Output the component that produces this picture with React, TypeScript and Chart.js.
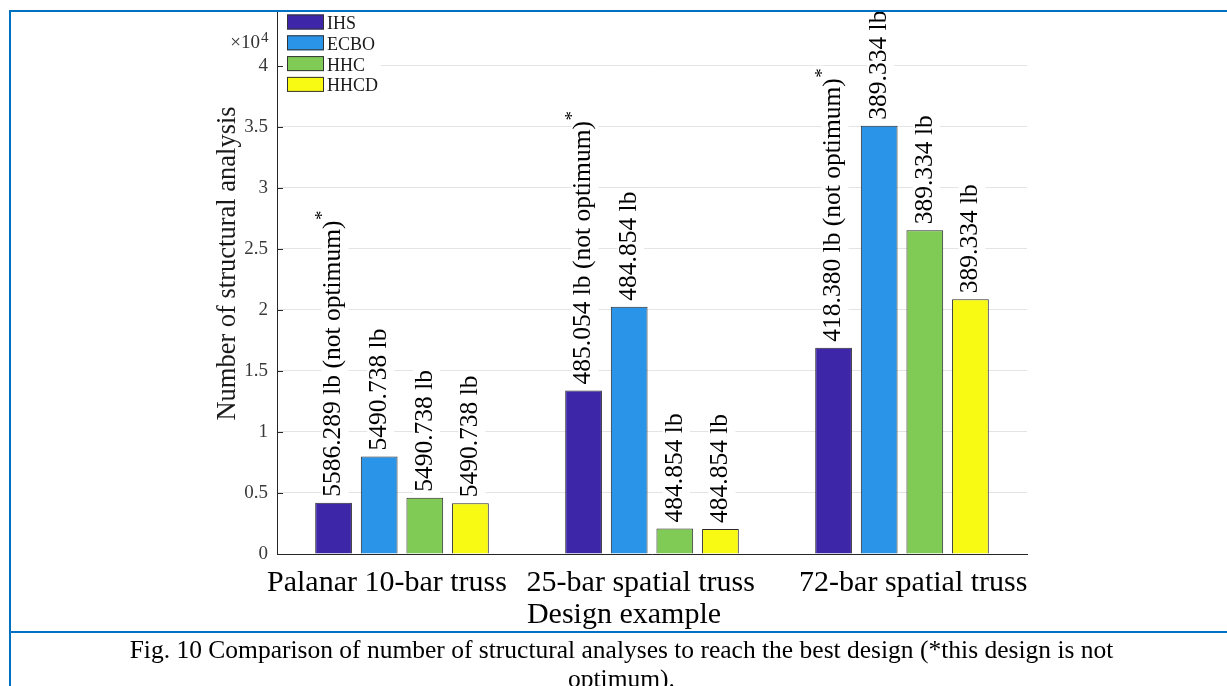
import React, { useEffect, useRef } from 'react';
import { Chart, registerables } from 'chart.js';

Chart.register(...registerables);

// ---------- data ----------
const CATEGORIES = ['Palanar 10-bar truss    ', '25-bar spatial truss   ', '   72-bar spatial truss'];
const SERIES_NAMES = ['IHS', 'ECBO', 'HHC', 'HHCD'];
const IHS = [4200, 13400, 16910];
const ECBO = [8000, 20270, 35100];
const HHC = [4600, 2100, 26530];
const HHCD = [4150, 2050, 20880];
const IHS_LABELS = ['5586.289 lb (not optimum)*', '485.054 lb (not optimum)*', '418.380 lb (not optimum)*'];
const ECBO_LABELS = ['5490.738 lb', '484.854 lb', '389.334 lb'];
const HHC_LABELS = ['5490.738 lb', '484.854 lb', '389.334 lb'];
const HHCD_LABELS = ['5490.738 lb', '484.854 lb', '389.334 lb'];
const Y_TICKS = [0, 5000, 10000, 15000, 20000, 25000, 30000, 35000, 40000];
const Y_TICK_LABELS = ['0', '0.5', '1', '1.5', '2', '2.5', '3', '3.5', '4'];
const Y_MIN = 0;
const Y_MAX = 44500;
const Y_EXPONENT = 4;
const Y_TITLE = 'Number of structural analysis';
const X_TITLE = 'Design example';
const CAPTION_LINE1 = 'Fig. 10 Comparison of number of structural analyses to reach the best design (*this design is not';
const CAPTION_LINE2 = 'optimum).';

const SERIES_VALUES = [IHS, ECBO, HHC, HHCD];
const SERIES_LABELS = [IHS_LABELS, ECBO_LABELS, HHC_LABELS, HHCD_LABELS];
const COLORS = ['#3e26a8', '#2a95e8', '#80ca56', '#f8fa14'];

const FONT = "'Liberation Serif', 'Times New Roman', serif";
const BLUE = '#0070c0';
const LABEL_SIZE = 25.5;

const decorPlugin = {
  id: 'decor',
  afterDatasetsDraw(chart: any) {
    const ctx = chart.ctx;
    chart.data.datasets.forEach((ds: any, di: number) => {
      const meta = chart.getDatasetMeta(di);
      const labels = SERIES_LABELS[di];
      meta.data.forEach((bar: any, i: number) => {
        const { x, y } = bar.getProps(['x', 'y'], true);
        let text = labels[i];
        const star = text.endsWith('*');
        if (star) text = text.slice(0, -1);
        ctx.save();
        ctx.translate(x, y - 6);
        ctx.rotate(-Math.PI / 2);
        ctx.font = `${LABEL_SIZE}px ${FONT}`;
        const w = ctx.measureText(text).width;
        ctx.font = `19px ${FONT}`;
        const sw = star ? ctx.measureText('*').width : 0;
        ctx.fillStyle = '#ffffff';
        ctx.fillRect(-2, -12, w + 4, 27);
        if (star) ctx.fillRect(w, -20, sw + 3, 11);
        ctx.fillStyle = '#000000';
        ctx.textAlign = 'left';
        ctx.textBaseline = 'middle';
        ctx.font = `${LABEL_SIZE}px ${FONT}`;
        ctx.fillText(text, 0, 0);
        if (star) {
          ctx.font = `19px ${FONT}`;
          ctx.fillText('*', w + 0.5, -10.5);
        }
        ctx.restore();
      });
    });
  },
  afterDraw(chart: any) {
    const ctx = chart.ctx;
    const area = chart.chartArea;
    const yScale = chart.scales.y;

    // legend (inside, top-left)
    ctx.save();
    ctx.fillStyle = '#ffffff';
    ctx.fillRect(area.left + 1, area.top, 103, 84);
    chart.data.datasets.forEach((ds: any, i: number) => {
      const cy = area.top + 11 + i * 20.8;
      ctx.fillStyle = ds.backgroundColor;
      ctx.fillRect(area.left + 10, cy - 7.5, 37, 15);
      ctx.strokeStyle = '#333333';
      ctx.lineWidth = 1;
      ctx.strokeRect(area.left + 10.5, cy - 7, 36, 14);
      ctx.fillStyle = '#1a1a1a';
      ctx.font = `18px ${FONT}`;
      ctx.textAlign = 'left';
      ctx.textBaseline = 'alphabetic';
      ctx.fillText(ds.label, area.left + 50, cy + 7);
    });
    ctx.restore();

    // inward tick marks on y axis
    ctx.save();
    ctx.strokeStyle = '#262626';
    ctx.lineWidth = 1;
    yScale.ticks.forEach((t: any) => {
      const py = Math.round(yScale.getPixelForValue(t.value)) + 0.5;
      ctx.beginPath();
      ctx.moveTo(area.left, py);
      ctx.lineTo(area.left + 6, py);
      ctx.stroke();
    });
    ctx.restore();

    // exponent label x10^4
    ctx.save();
    ctx.fillStyle = '#333333';
    ctx.textBaseline = 'alphabetic';
    ctx.textAlign = 'right';
    ctx.font = `19px ${FONT}`;
    ctx.fillText('\u00d710', area.left - 17, 48);
    ctx.textAlign = 'left';
    ctx.font = `15px ${FONT}`;
    ctx.fillText(String(Y_EXPONENT), area.left - 16, 41.5);
    ctx.restore();

    // axis titles
    ctx.save();
    ctx.fillStyle = '#1a1a1a';
    ctx.font = `26.5px ${FONT}`;
    ctx.textAlign = 'center';
    ctx.textBaseline = 'alphabetic';
    ctx.translate(235, 263.5);
    ctx.rotate(-Math.PI / 2);
    ctx.fillText(Y_TITLE, 0, 0);
    ctx.restore();

    ctx.save();
    ctx.fillStyle = '#000000';
    ctx.font = `30px ${FONT}`;
    ctx.textAlign = 'center';
    ctx.textBaseline = 'alphabetic';
    ctx.fillText(X_TITLE, 624, 623);
    ctx.restore();
  },
};

export default function App() {
  const ref = useRef<HTMLCanvasElement>(null);
  useEffect(() => {
    const chart = new Chart(ref.current as HTMLCanvasElement, {
      type: 'bar',
      data: {
        labels: CATEGORIES,
        datasets: SERIES_NAMES.map((name, i) => ({
          label: name,
          data: SERIES_VALUES[i],
          backgroundColor: COLORS[i],
          borderColor: '#2a2a2a',
          borderWidth: 1,
          categoryPercentage: 0.73,
          barPercentage: 0.805,
        })),
      },
      options: {
        responsive: false,
        animation: false,
        devicePixelRatio: 1,
        layout: { padding: { left: 0, top: 11, right: 200, bottom: 0 } },
        plugins: {
          legend: { display: false },
          tooltip: { enabled: false },
        },
        scales: {
          x: {
            grid: { display: false },
            border: { display: true, color: '#262626', width: 1 },
            ticks: {
              autoSkip: false,
              maxRotation: 0,
              minRotation: 0,
              padding: 3,
              color: '#000000',
              font: { family: FONT, size: 30 },
            },
            afterFit: (scale: any) => {
              scale.height = 76;
              scale.paddingLeft = 0;
              scale.paddingRight = 0;
            },
          },
          y: {
            min: Y_MIN,
            max: Y_MAX,
            grid: {
              drawTicks: false,
              color: '#e4e4e4',
              lineWidth: 1,
            },
            border: { display: true, color: '#262626', width: 1 },
            ticks: {
              padding: 9,
              color: '#3a3a3a',
              font: { family: FONT, size: 19 },
              callback: (v: any) => {
                const idx = Y_TICKS.indexOf(Number(v));
                return idx >= 0 ? Y_TICK_LABELS[idx] : '';
              },
            },
            afterBuildTicks: (scale: any) => {
              scale.ticks = Y_TICKS.map((v) => ({ value: v }));
            },
            afterFit: (scale: any) => {
              scale.width = 277;
              scale.paddingTop = 0;
              scale.paddingBottom = 0;
            },
          },
        },
      },
      plugins: [decorPlugin],
    } as any);
    return () => chart.destroy();
  }, []);

  return (
    <div
      style={{
        position: 'fixed',
        left: 0,
        top: 0,
        width: 1227,
        height: 686,
        background: '#ffffff',
        overflow: 'hidden',
      }}
    >
      <canvas
        ref={ref}
        width={1227}
        height={630}
        style={{ position: 'absolute', left: 0, top: 0, width: 1227, height: 630, display: 'block' }}
      />
      <div style={{ position: 'absolute', left: 10, top: 10, width: 1217, height: 2, background: BLUE }} />
      <div style={{ position: 'absolute', left: 9, top: 10, width: 2, height: 676, background: BLUE }} />
      <div style={{ position: 'absolute', left: 10, top: 631, width: 1217, height: 2, background: BLUE }} />
      <div
        style={{
          position: 'absolute',
          left: 10,
          top: 634.6,
          width: 1223,
          textAlign: 'center',
          fontFamily: FONT,
          fontSize: '25.5px',
          lineHeight: '29px',
          color: '#000000',
          whiteSpace: 'nowrap',
        }}
      >
        {CAPTION_LINE1}
        <br />
        {CAPTION_LINE2}
      </div>
    </div>
  );
}
